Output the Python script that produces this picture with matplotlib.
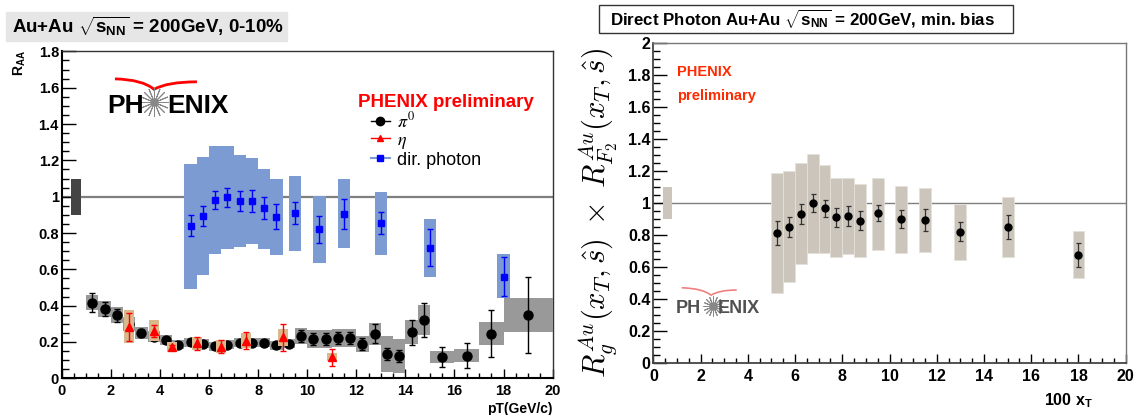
import numpy as np
import matplotlib
matplotlib.use('Agg')
import matplotlib.pyplot as plt
from matplotlib.patches import Rectangle, PathPatch
from matplotlib.path import Path
from matplotlib.lines import Line2D
from matplotlib.ticker import MultipleLocator, FormatStrFormatter

plt.rcParams['font.family'] = ['Liberation Sans', 'DejaVu Sans']
plt.rcParams['mathtext.fontset'] = 'custom'
plt.rcParams['mathtext.rm'] = 'Liberation Sans:bold'
plt.rcParams['mathtext.bf'] = 'Liberation Sans:bold'
plt.rcParams['mathtext.it'] = 'Liberation Sans:italic:bold'
plt.rcParams['mathtext.sf'] = 'Liberation Sans:bold'

# ---- left panel: Au+Au 0-10% RAA ----
pi0_pt = [1.25, 1.75, 2.25, 2.75, 3.25, 3.75, 4.25, 4.75, 5.25, 5.75, 6.25, 6.75,
          7.25, 7.75, 8.25, 8.75, 9.25, 9.75, 10.25, 10.75, 11.25, 11.75, 12.25,
          12.75, 13.25, 13.75, 14.25, 14.75, 15.5, 16.5, 17.5, 19.0]
pi0_raa = [0.417, 0.382, 0.347, 0.30, 0.25, 0.23, 0.209, 0.186, 0.198, 0.19, 0.176,
           0.185, 0.195, 0.195, 0.195, 0.183, 0.19, 0.233, 0.216, 0.216, 0.221,
           0.221, 0.189, 0.246, 0.134, 0.123, 0.253, 0.321, 0.119, 0.125, 0.246, 0.349]
pi0_stat = [0.053, 0.04, 0.035, 0.03, 0.02, 0.02, 0.015, 0.012, 0.012, 0.012, 0.012,
            0.012, 0.012, 0.012, 0.013, 0.014, 0.015, 0.032, 0.032, 0.032, 0.033,
            0.034, 0.032, 0.052, 0.032, 0.032, 0.07, 0.092, 0.055, 0.067, 0.128, 0.21]
pi0_sys = [0.043, 0.046, 0.044, 0.04, 0.035, 0.03, 0.028, 0.025, 0.025, 0.025, 0.025,
           0.025, 0.025, 0.025, 0.025, 0.025, 0.025, 0.045, 0.05, 0.05, 0.05, 0.05,
           0.044, 0.06, 0.1, 0.095, 0.066, 0.085, 0.033, 0.035, 0.064, 0.092]
pi0_binw = [0.5] * 28 + [1.0, 1.0, 1.0, 2.0]

eta_pt = [2.75, 3.75, 4.5, 5.5, 6.5, 7.5, 9.0, 11.0]
eta_raa = [0.285, 0.262, 0.174, 0.193, 0.174, 0.207, 0.226, 0.116]
eta_stat = [0.077, 0.034, 0.01, 0.035, 0.037, 0.046, 0.073, 0.046]
eta_sys = [0.092, 0.057, 0.028, 0.035, 0.035, 0.041, 0.046, 0.023]

gam_pt = [5.25, 5.75, 6.25, 6.75, 7.25, 7.75, 8.25, 8.75, 9.5, 10.5, 11.5, 13.0, 15.0, 18.0]
gam_raa = [0.839, 0.894, 0.982, 0.996, 0.978, 0.978, 0.936, 0.89, 0.91, 0.82, 0.905,
           0.855, 0.72, 0.56]
gam_stat = [0.058, 0.055, 0.05, 0.052, 0.055, 0.06, 0.061, 0.068, 0.059, 0.073, 0.085,
            0.062, 0.102, 0.107]
gam_sys_lo = [0.494, 0.569, 0.684, 0.712, 0.721, 0.739, 0.712, 0.679, 0.703, 0.637,
              0.716, 0.679, 0.56, 0.44]
gam_sys_hi = [1.18, 1.217, 1.281, 1.281, 1.23, 1.211, 1.152, 1.097, 1.114, 1.004,
              1.097, 1.026, 0.877, 0.685]

# ---- right panel: 100 xT ----
xt = [5.25, 5.75, 6.25, 6.75, 7.25, 7.75, 8.25, 8.75, 9.5, 10.5, 11.5, 13.0, 15.0, 18.0]
xt_r = [0.8125, 0.854, 0.933, 1.0, 0.969, 0.9125, 0.92, 0.89, 0.9375, 0.9, 0.896,
        0.823, 0.85, 0.677]
xt_stat = [0.076, 0.0625, 0.0625, 0.057, 0.054, 0.06, 0.0625, 0.06, 0.049, 0.055,
           0.068, 0.058, 0.075, 0.075]
xt_sys_lo = [0.4375, 0.506, 0.621, 0.692, 0.692, 0.667, 0.683, 0.667, 0.708, 0.692,
             0.698, 0.646, 0.6625, 0.531]
xt_sys_hi = [1.19, 1.2, 1.25, 1.308, 1.2375, 1.16, 1.156, 1.119, 1.16, 1.108, 1.094,
             0.994, 1.042, 0.827]

norm_x = 0.6
norm_err = 0.1

fig = plt.figure(figsize=(11.44, 4.15), dpi=100)


def logo(ax, x0, y0, star, x1, swoosh, size, col, scol, slw):
    ax.text(x0, y0, 'PH', transform=ax.transAxes, fontsize=size, fontweight='bold',
            color=col, va='baseline')
    ax.plot([star[0]], [star[1]], transform=ax.transAxes, marker=(16, 2, 0),
            ms=size * 1.1, mew=0.7, color='#888888', clip_on=False)
    ax.text(x1, y0, 'ENIX', transform=ax.transAxes, fontsize=size, fontweight='bold',
            color=col, va='baseline')
    (p0, c0, p1, c1, p2) = swoosh
    path = Path([p0, c0, p1, c1, p2],
                [Path.MOVETO, Path.CURVE3, Path.CURVE3, Path.CURVE3, Path.CURVE3])
    ax.add_patch(PathPatch(path, transform=ax.transAxes, fc='none', ec=scol, lw=slw))


# ================= left =================
ax1 = fig.add_axes([0.0539, 0.0884, 0.4292, 0.7877])
ax1.set_xlim(0, 20)
ax1.set_ylim(0, 1.8)
ax1.axhline(1.0, color='#7f7f7f', lw=1.6, zorder=1)
ax1.bar([norm_x], [2 * norm_err], bottom=[1 - norm_err], width=0.4, color='#444444', zorder=2)

gam_lo = np.array(gam_sys_lo)
gam_hi = np.array(gam_sys_hi)
ax1.bar(gam_pt, gam_hi - gam_lo, bottom=gam_lo, width=0.5, color='#7b9bd2', zorder=2)

pr = np.array(pi0_raa)
ps = np.array(pi0_sys)
ax1.bar(pi0_pt, 2 * ps, bottom=pr - ps, width=pi0_binw, color='#999999', zorder=3)
ax1.errorbar(pi0_pt, pi0_raa, yerr=pi0_stat, fmt='o', color='black', ms=6.5,
             elinewidth=1, capsize=2, capthick=1, zorder=4)

er = np.array(eta_raa)
es = np.array(eta_sys)
ax1.bar(eta_pt, 2 * es, bottom=er - es, width=0.4, color='#d9b88c', zorder=5)
ax1.errorbar(eta_pt, eta_raa, yerr=eta_stat, fmt='^', color='red', ms=5.5,
             elinewidth=1, capsize=2, capthick=1, zorder=6)

ax1.errorbar(gam_pt, gam_raa, yerr=gam_stat, fmt='s', color='#0000ff', ms=5,
             elinewidth=1, capsize=2, capthick=1, zorder=6)

ax1.xaxis.set_major_locator(MultipleLocator(2))
ax1.xaxis.set_minor_locator(MultipleLocator(0.5))
ax1.yaxis.set_major_locator(MultipleLocator(0.2))
ax1.yaxis.set_minor_locator(MultipleLocator(0.05))
ax1.yaxis.set_major_formatter(FormatStrFormatter('%g'))
ax1.tick_params(axis='y', which='major', direction='in', length=10, width=1, pad=2,
                labelsize=10.5)
ax1.tick_params(axis='y', which='minor', direction='in', length=5, width=1)
ax1.tick_params(axis='x', which='major', direction='in', length=6.5, width=1, pad=4,
                labelsize=10.5)
ax1.tick_params(axis='x', which='minor', direction='in', length=3.3, width=1)
for lab in ax1.get_xticklabels() + ax1.get_yticklabels():
    lab.set_fontweight('bold')
for s in ['left', 'bottom']:
    ax1.spines[s].set_linewidth(1.5)
for s in ['top', 'right']:
    ax1.spines[s].set_linewidth(1.0)
    ax1.spines[s].set_color('#333333')

ax1.text(1.0, -0.094, 'pT(GeV/c)', transform=ax1.transAxes, ha='right', va='center',
         fontsize=10, fontweight='bold')
ax1.text(-0.085, 0.966, r'R$_{\mathregular{AA}}$', transform=ax1.transAxes, rotation=90,
         ha='center', va='center', fontsize=10, fontweight='bold')

ax1.text(0.604, 0.8306, 'PHENIX preliminary', transform=ax1.transAxes, color='red',
         fontsize=13.5, fontweight='bold', va='baseline')
handles = [Line2D([], [], color='black', marker='o', ms=6, lw=1),
           Line2D([], [], color='red', marker='^', ms=5, lw=1),
           Line2D([], [], color='#7b9bd2', marker='s', ms=5, mfc='#0000ff', mec='#0000ff', lw=1.5)]
leg = ax1.legend(handles, [r'$\pi^{0}$', r'$\eta$', 'dir. photon'], loc='upper left',
                 bbox_to_anchor=(0.63, 0.818), frameon=False, fontsize=13,
                 handlelength=1.05, handletextpad=0.4, labelspacing=0.05,
                 borderpad=0, borderaxespad=0)
for t in leg.get_texts()[:2]:
    t.set_math_fontfamily('stix')

logo(ax1, 0.0925, 0.8117, (0.188, 0.846), 0.2145,
     [(0.1085, 0.916), (0.165, 0.914), (0.188, 0.884), (0.215, 0.907), (0.2755, 0.907)],
     19, 'black', 'red', 2)

# ================= right =================
ax2 = fig.add_axes([0.5711, 0.1246, 0.4129, 0.7711])
ax2.set_xlim(0, 20)
ax2.set_ylim(0, 2)
ax2.axhline(1.0, color='#7f7f7f', lw=1.0, zorder=1)
ax2.bar([norm_x], [2 * norm_err], bottom=[1 - norm_err], width=0.4, color='#cbc5bb', zorder=2)
xlo = np.array(xt_sys_lo)
xhi = np.array(xt_sys_hi)
ax2.bar(xt, xhi - xlo, bottom=xlo, width=0.5, color='#cbc5bb', edgecolor='#e4e0da',
        linewidth=0.6, zorder=2)
ax2.errorbar(xt, xt_r, yerr=xt_stat, fmt='o', color='black', ecolor='#333333', ms=5,
             elinewidth=0.9, capsize=1.8, capthick=0.9, zorder=4)

ax2.xaxis.set_major_locator(MultipleLocator(2))
ax2.xaxis.set_minor_locator(MultipleLocator(0.5))
ax2.yaxis.set_major_locator(MultipleLocator(0.2))
ax2.yaxis.set_minor_locator(MultipleLocator(0.05))
ax2.yaxis.set_major_formatter(FormatStrFormatter('%g'))
ax2.tick_params(axis='y', which='major', direction='in', length=10, width=1, pad=2,
                labelsize=11.5)
ax2.tick_params(axis='y', which='minor', direction='in', length=5, width=1)
ax2.tick_params(axis='x', which='major', direction='in', length=6.5, width=1, pad=4,
                labelsize=11.5)
ax2.tick_params(axis='x', which='minor', direction='in', length=3.3, width=1)
for lab in ax2.get_xticklabels() + ax2.get_yticklabels():
    lab.set_fontweight('bold')
for s in ['left', 'bottom']:
    ax2.spines[s].set_linewidth(1.3)
    ax2.spines[s].set_color('#444444')
for s in ['top', 'right']:
    ax2.spines[s].set_linewidth(1.0)
    ax2.spines[s].set_color('#777777')

ylab = ax2.text(-0.117, 0.471,
                r'$R_g^{Au}(x_T,\hat{s})\;\times\;R_{F_2}^{Au}(x_T,\hat{s})$',
                transform=ax2.transAxes, rotation=90, ha='center', va='center',
                fontsize=22)
ylab.set_math_fontfamily('cm')
ax2.text(0.931, -0.118, r'100 x$_{\mathregular{T}}$', transform=ax2.transAxes,
         ha='right', va='center', fontsize=11.5, fontweight='bold')

ax2.text(0.0495, 0.898, 'PHENIX', transform=ax2.transAxes, color='#ff2a00',
         fontsize=10.5, fontweight='bold', va='baseline')
ax2.text(0.0495, 0.8225, 'preliminary', transform=ax2.transAxes, color='#ff2a00',
         fontsize=10.5, fontweight='bold', va='baseline')
logo(ax2, 0.048, 0.156, (0.127, 0.179), 0.137,
     [(0.060, 0.236), (0.105, 0.234), (0.122, 0.213), (0.14, 0.229), (0.1765, 0.229)],
     13, '#505050', '#f08080', 1.2)

# ---- title boxes ----
fig.patches.append(Rectangle((6 / 1144, 1 - 41 / 415), 281 / 1144, 29 / 415,
                             transform=fig.transFigure, color='#e6e6e6', zorder=0))
fig.text(12 / 1144, 1 - 26 / 415, r'Au+Au $\sqrt{\mathregular{s_{NN}}}$ = 200GeV, 0-10%',
         fontsize=13.5, fontweight='bold', va='center')
fig.patches.append(Rectangle((599 / 1144, 1 - 33 / 415), 414 / 1144, 28 / 415,
                             transform=fig.transFigure, fc='white', ec='#333333',
                             lw=1, zorder=0))
fig.text(610 / 1144, 1 - 18.5 / 415,
         r'Direct Photon Au+Au $\sqrt{\mathregular{s_{NN}}}$ = 200GeV, min. bias',
         fontsize=12.2, fontweight='bold', va='center')

fig.savefig('out.png', dpi=100)
